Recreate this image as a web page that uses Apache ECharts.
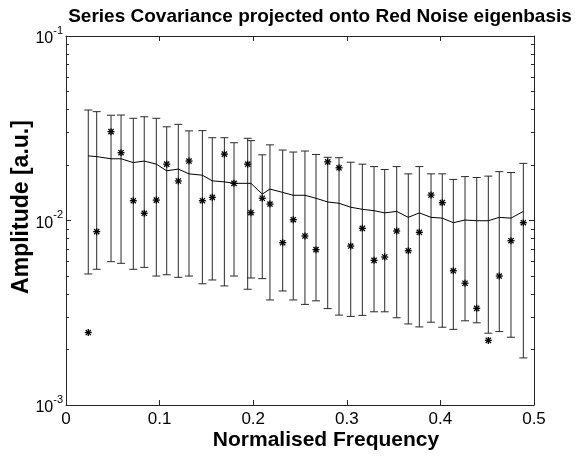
<!DOCTYPE html>
<html><head><meta charset="utf-8">
<script src="https://cdn.jsdelivr.net/npm/echarts@6/dist/echarts.min.js"></script>
<style>html,body{margin:0;padding:0;background:#fff}#c{width:575px;height:458px}</style>
</head><body><div id="c"></div>
<script>
// Normalised frequency of each projected component
const freq = [0.0238, 0.0328, 0.0481, 0.0588, 0.0719, 0.0836, 0.0965, 0.1076, 0.1200, 0.1314,
  0.1457, 0.1563, 0.1692, 0.1795, 0.1941, 0.1976, 0.2097, 0.2179, 0.2315, 0.2428,
  0.2553, 0.2671, 0.2796, 0.2917, 0.3042, 0.3166, 0.3291, 0.3405, 0.3533, 0.3657,
  0.3775, 0.3900, 0.4020, 0.4138, 0.4263, 0.4388, 0.4512, 0.4629, 0.4754, 0.4886];
// Projected amplitude of the series (asterisks)
const amplitude = [0.00247, 0.00870, 0.0303, 0.0233, 0.0128, 0.01094, 0.0129, 0.0202, 0.01637, 0.0210,
  0.0128, 0.01335, 0.0229, 0.0159, 0.0202, 0.01102, 0.0132, 0.01228, 0.00758, 0.0101,
  0.00824, 0.00695, 0.0208, 0.0193, 0.00727, 0.00907, 0.00608, 0.00634, 0.00877, 0.00686,
  0.00863, 0.01374, 0.01249, 0.00534, 0.00457, 0.00334, 0.00224, 0.00500, 0.00777, 0.00973];
// Red-noise surrogate mean (line)
const redNoiseMean = [0.0224, 0.0222, 0.0216, 0.0216, 0.0206, 0.0210, 0.0202, 0.0186, 0.0190, 0.0179,
  0.0176, 0.0164, 0.0162, 0.0159, 0.0159, 0.0159, 0.0139, 0.0148, 0.0142, 0.0137,
  0.0137, 0.0132, 0.0126, 0.0124, 0.0118, 0.0115, 0.0113, 0.0110, 0.0112, 0.0104,
  0.0110, 0.0104, 0.0103, 0.00973, 0.01006, 0.00997, 0.00997, 0.0104, 0.0103, 0.0112];
// Error bar upper / lower limits
const upperLimit = [0.0397, 0.0389, 0.0372, 0.0373, 0.0358, 0.0365, 0.0358, 0.0322, 0.0332, 0.0306,
  0.0307, 0.0281, 0.0281, 0.0264, 0.0279, 0.0271, 0.0227, 0.0257, 0.0241, 0.0235,
  0.0238, 0.0228, 0.0220, 0.0219, 0.0207, 0.0202, 0.0196, 0.0189, 0.0196, 0.0179,
  0.0196, 0.0179, 0.0179, 0.0167, 0.0173, 0.0171, 0.0174, 0.0184, 0.0182, 0.0204];
const lowerLimit = [0.00513, 0.00544, 0.00598, 0.00586, 0.00544, 0.00557, 0.00500, 0.00508, 0.00492, 0.00500,
  0.00454, 0.00476, 0.00442, 0.00500, 0.00424, 0.00488, 0.00484, 0.00371, 0.00415, 0.00371,
  0.00351, 0.00367, 0.00333, 0.00307, 0.00302, 0.00306, 0.00320, 0.00320, 0.00297, 0.00275,
  0.00265, 0.00281, 0.00264, 0.00257, 0.00286, 0.00279, 0.00245, 0.00250, 0.00233, 0.00180];
const xTicks = [0, 0.1, 0.2, 0.3, 0.4, 0.5];
const yMajorTicks = [0.001, 0.01, 0.1];
const yMinorTicks = [0.002, 0.003, 0.004, 0.005, 0.006, 0.007, 0.008, 0.009,
  0.02, 0.03, 0.04, 0.05, 0.06, 0.07, 0.08, 0.09];

const titleText = 'Series Covariance projected onto Red Noise eigenbasis';
const xLabelText = 'Normalised Frequency';
const yLabelText = 'Amplitude [a.u.]';

const FONT = '"Liberation Sans", Arial, Helvetica, sans-serif';
const AX = '#262626';

const errData = freq.map((f, i) => [f, lowerLimit[i], upperLimit[i]]);
const ptData = freq.map((f, i) => [f, amplitude[i]]);
const lineData = freq.map((f, i) => [f, redNoiseMean[i]]);

function yAxisBase(pos, ticks, len, showLine, showLabel) {
  return {
    type: 'log', logBase: 10, min: 0.001, max: 0.1, position: pos,
    axisLine: { show: showLine, lineStyle: { color: AX, width: 1 } },
    axisTick: { show: true, inside: true, length: len, customValues: ticks, lineStyle: { color: AX, width: 1 } },
    axisLabel: showLabel ? {
      show: true, customValues: yMajorTicks, margin: 3,
      formatter: v => '{b|10}{s|' + Math.round(Math.log10(v)) + '}',
      rich: {
        b: { fontSize: 16, fontFamily: FONT, color: '#000', verticalAlign: 'bottom', lineHeight: 22 },
        s: { fontSize: 11, fontFamily: FONT, color: '#000', verticalAlign: 'top', lineHeight: 12 }
      }
    } : { show: false },
    splitLine: { show: false }, minorTick: { show: false }
  };
}
function xAxisBase(pos, showLabel) {
  return {
    type: 'value', min: 0, max: 0.5, interval: 0.1, position: pos,
    axisLine: { show: true, lineStyle: { color: AX, width: 1 } },
    axisTick: { show: true, inside: true, length: 5, customValues: xTicks, lineStyle: { color: AX } },
    axisLabel: showLabel ? { show: true, customValues: xTicks, fontSize: 17, fontFamily: FONT, color: '#000', margin: 6 } : { show: false },
    splitLine: { show: false }
  };
}

const chart = echarts.init(document.getElementById('c'), null, { renderer: 'canvas' });
chart.setOption({
  animation: false,
  backgroundColor: '#fff',
  grid: { left: 66, right: 41, top: 36, bottom: 53, containLabel: false },
  xAxis: [xAxisBase('bottom', true), xAxisBase('top', false)],
  yAxis: [
    yAxisBase('left', yMajorTicks, 5, true, true),
    yAxisBase('left', yMinorTicks, 3, false, false),
    yAxisBase('right', yMajorTicks, 5, true, false),
    yAxisBase('right', yMinorTicks, 3, false, false)
  ],
  graphic: [
    { type: 'text', x: 320, y: 17, style: { text: titleText, font: 'bold 19px ' + FONT, fill: '#000', textAlign: 'center', textVerticalAlign: 'middle' } },
    { type: 'text', x: 326, y: 440, style: { text: xLabelText, font: 'bold 21px ' + FONT, fill: '#000', textAlign: 'center', textVerticalAlign: 'middle' } },
    { type: 'text', x: 22, y: 207, rotation: Math.PI / 2, style: { text: yLabelText, font: 'bold 23px ' + FONT, fill: '#000', textAlign: 'center', textVerticalAlign: 'middle' } }
  ],
  series: [
    {
      type: 'custom', xAxisIndex: 0, yAxisIndex: 0, data: errData,
      encode: { x: 0, y: [1, 2] },
      renderItem: function (params, api) {
        const x = api.value(0);
        const top = api.coord([x, api.value(2)]);
        const bot = api.coord([x, api.value(1)]);
        const w = 4;
        const st = { stroke: '#2a2a2a', lineWidth: 1 };
        return { type: 'group', children: [
          { type: 'line', shape: { x1: top[0], y1: top[1], x2: bot[0], y2: bot[1] }, style: st },
          { type: 'line', shape: { x1: top[0] - w, y1: top[1], x2: top[0] + w, y2: top[1] }, style: st },
          { type: 'line', shape: { x1: bot[0] - w, y1: bot[1], x2: bot[0] + w, y2: bot[1] }, style: st }
        ] };
      },
      z: 2
    },
    {
      type: 'line', xAxisIndex: 0, yAxisIndex: 0, data: lineData, showSymbol: false, symbol: 'none',
      lineStyle: { color: '#000', width: 1 }, z: 3
    },
    {
      type: 'custom', xAxisIndex: 0, yAxisIndex: 0, data: ptData,
      encode: { x: 0, y: 1 },
      renderItem: function (params, api) {
        const p = api.coord([api.value(0), api.value(1)]);
        const r = 3.5, d = 2.6;
        const st = { stroke: '#000', lineWidth: 1.3 };
        return { type: 'group', children: [
          { type: 'line', shape: { x1: p[0] - r, y1: p[1], x2: p[0] + r, y2: p[1] }, style: st },
          { type: 'line', shape: { x1: p[0], y1: p[1] - r, x2: p[0], y2: p[1] + r }, style: st },
          { type: 'line', shape: { x1: p[0] - d, y1: p[1] - d, x2: p[0] + d, y2: p[1] + d }, style: st },
          { type: 'line', shape: { x1: p[0] - d, y1: p[1] + d, x2: p[0] + d, y2: p[1] - d }, style: st }
        ] };
      },
      z: 4
    }
  ]
});
</script></body></html>
